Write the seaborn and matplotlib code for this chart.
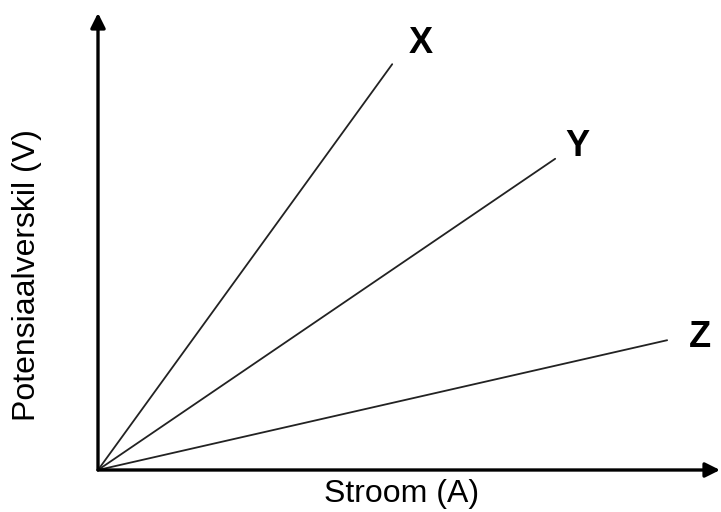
import matplotlib
matplotlib.use('Agg')
import matplotlib.pyplot as plt
import seaborn as sns
import pandas as pd

# end points of the three straight lines (all start at the origin)
lyne = ['X', 'Y', 'Z']
stroom_einde = [4.73, 7.35, 9.15]
potensiaal_einde = [8.88, 6.81, 2.84]

# where the line names sit
etiket_x = [5.19, 7.70, 9.68]
etiket_y = [9.34, 7.07, 2.89]

rows = []
for naam, i_end, v_end in zip(lyne, stroom_einde, potensiaal_einde):
    rows.append({'lyn': naam, 'stroom': 0.0, 'potensiaal': 0.0})
    rows.append({'lyn': naam, 'stroom': i_end, 'potensiaal': v_end})
df = pd.DataFrame(rows)

sns.set_style('white')
plt.rcParams['font.family'] = ['Liberation Sans', 'DejaVu Sans']
plt.rcParams['text.color'] = 'black'
plt.rcParams['axes.labelcolor'] = 'black'

fig = plt.figure(figsize=(7.21, 5.12), dpi=100)
ax = fig.add_axes([98 / 721, 42 / 512, 622 / 721, 457 / 512])

sns.lineplot(data=df, x='stroom', y='potensiaal', hue='lyn', palette=['#222222'] * 3,
             legend=False, linewidth=1.3, ax=ax, clip_on=False)

for naam, tx, ty in zip(lyne, etiket_x, etiket_y):
    ax.text(tx, ty, naam, fontsize=26, fontweight='bold', ha='center', va='center', color='black')

ax.set_xlim(0, 10)
ax.set_ylim(0, 10)
for s in ax.spines.values():
    s.set_visible(False)
ax.set_xticks([])
ax.set_yticks([])

# axes with arrow heads
pijl = dict(arrowstyle='-|>', color='black', lw=2.4, mutation_scale=22, shrinkA=0, shrinkB=0)
ax.annotate('', xy=(10, 0), xytext=(0, 0), arrowprops=pijl, annotation_clip=False)
ax.annotate('', xy=(0, 10), xytext=(0, 0), arrowprops=pijl, annotation_clip=False)

ax.set_xlabel('Stroom (A)', fontsize=23)
ax.set_ylabel('Potensiaalverskil (V)', fontsize=23)
ax.xaxis.set_label_coords(0.488, -0.02)
ax.yaxis.set_label_coords(-0.09, 0.427)

fig.savefig('out.png', dpi=100)
